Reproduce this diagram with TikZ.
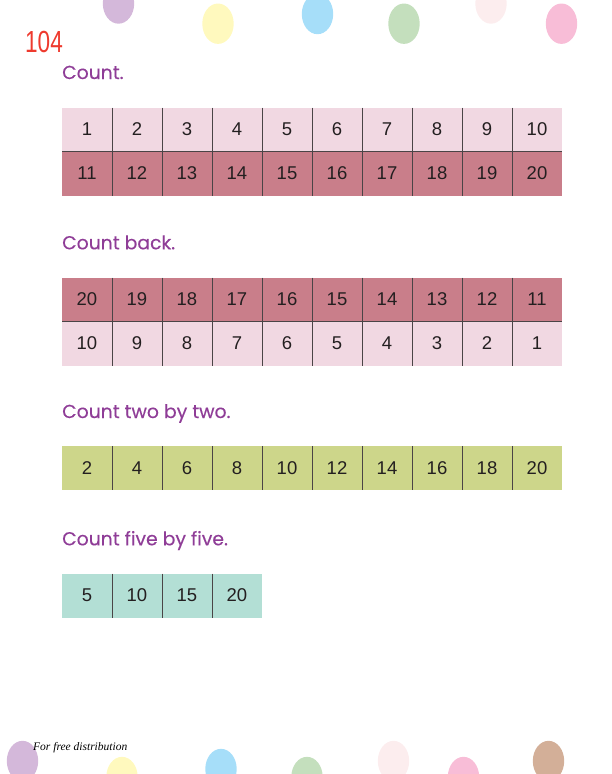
\documentclass[tikz,border=0pt]{standalone}
\usepackage{fontspec}
\setmainfont{Liberation Sans}
\newfontfamily\headfont[FakeBold=0.3]{Poppins}
\newfontfamily\footfont{Liberation Serif}
\usetikzlibrary{positioning}

\definecolor{pinklight}{HTML}{F1D8E2}
\definecolor{rosedark}{HTML}{C97E8A}
\definecolor{olivegreen}{HTML}{CDD68A}
\definecolor{mintteal}{HTML}{B3DFD5}
\definecolor{gridgray}{HTML}{4A4446}
\definecolor{numtext}{HTML}{231F20}
\definecolor{headpurple}{HTML}{8F3D97}
\definecolor{pagered}{HTML}{EE3A2E}
\definecolor{dotlilac}{HTML}{D4B8DA}
\definecolor{dotyellow}{HTML}{FFF9BE}
\definecolor{dotblue}{HTML}{A6DEF9}
\definecolor{dotgreen}{HTML}{C4DFBD}
\definecolor{dotblush}{HTML}{FCEDEE}
\definecolor{dotpink}{HTML}{F8BDD7}
\definecolor{dotbrown}{HTML}{D3AF98}

\tikzset{
  cell/.style={minimum width=50pt, minimum height=44pt, inner sep=0pt, outer sep=0pt,
               font=\fontsize{18.5}{18.5}\selectfont, text=numtext},
  head/.style={anchor=base west, inner sep=0pt, text=headpurple,
               font=\headfont\fontsize{18.8}{18.8}\selectfont},
  sep/.style={draw=gridgray, line width=1pt},
}

\begin{document}
\begin{tikzpicture}[x=1pt, y=-1pt]
  \useasboundingbox (0,0) rectangle (612,774);
  \clip (0,0) rectangle (612,774);
  % dots along the top and the bottom
  \foreach \x/\y/\c in {118.5/3.5/dotlilac, 218/23.7/dotyellow, 317.5/14/dotblue,
                        404/23.7/dotgreen, 491/3.5/dotblush, 561.5/23.7/dotpink,
                        22.5/761/dotlilac, 122/777/dotyellow, 221/769/dotblue,
                        307/777/dotgreen, 393.5/761/dotblush, 463.5/777/dotpink,
                        548.5/761/dotbrown}
    \fill[\c] (\x,\y) ellipse [x radius=15.7pt, y radius=20.2pt];

  \node[anchor=base west, inner sep=0pt, text=pagered,
        font=\fontsize{30.5}{30.5}\selectfont] (page) at (25,52) {\scalebox{0.74}[1]{104}};

  % Count.
  \node[head] (count) at (62,79) {Count.};
  \node[cell, fill=pinklight] (a1) at (87,129.5) {1};
  \foreach \i [remember=\i as \j (initially 1)] in {2,...,10}
    \node[cell, fill=pinklight, right=0pt of a\j] (a\i) {\i};
  \foreach \i in {1,...,10} {
    \pgfmathtruncatemacro\n{\i+10}
    \node[cell, fill=rosedark, below=0pt of a\i] (b\i) {\n};
  }
  \foreach \i in {1,...,9}
    \draw[sep] (a\i.north east) -- (b\i.south east);
  \draw[sep] (a1.south west) -- (a10.south east);

  % Count back.
  \node[head] (back) at (62,249.3) {Count back.};
  \node[cell, fill=rosedark] (c1) at (87,299.5) {20};
  \foreach \i [remember=\i as \j (initially 1)] in {2,...,10} {
    \pgfmathtruncatemacro\n{21-\i}
    \node[cell, fill=rosedark, right=0pt of c\j] (c\i) {\n};
  }
  \foreach \i in {1,...,10} {
    \pgfmathtruncatemacro\n{11-\i}
    \node[cell, fill=pinklight, below=0pt of c\i] (d\i) {\n};
  }
  \foreach \i in {1,...,9}
    \draw[sep] (c\i.north east) -- (d\i.south east);
  \draw[sep] (c1.south west) -- (c10.south east);

  % Count two by two.
  \node[head] (twos) at (62,418) {Count two by two.};
  \node[cell, fill=olivegreen] (e1) at (87,468) {2};
  \foreach \i [remember=\i as \j (initially 1)] in {2,...,10} {
    \pgfmathtruncatemacro\n{2*\i}
    \node[cell, fill=olivegreen, right=0pt of e\j] (e\i) {\n};
  }
  \foreach \i in {1,...,9}
    \draw[sep] (e\i.north east) -- (e\i.south east);

  % Count five by five.
  \node[head] (fives) at (62,545.3) {Count five by five.};
  \node[cell, fill=mintteal] (f1) at (87,595.5) {5};
  \foreach \i [remember=\i as \j (initially 1)] in {2,...,4} {
    \pgfmathtruncatemacro\n{5*\i}
    \node[cell, fill=mintteal, right=0pt of f\j] (f\i) {\n};
  }
  \foreach \i in {1,...,3}
    \draw[sep] (f\i.north east) -- (f\i.south east);

  \node[anchor=base west, inner sep=0pt,
        font=\footfont\itshape\fontsize{11.5}{11.5}\selectfont] (foot) at (33,750.5) {For free distribution};
\end{tikzpicture}
\end{document}
